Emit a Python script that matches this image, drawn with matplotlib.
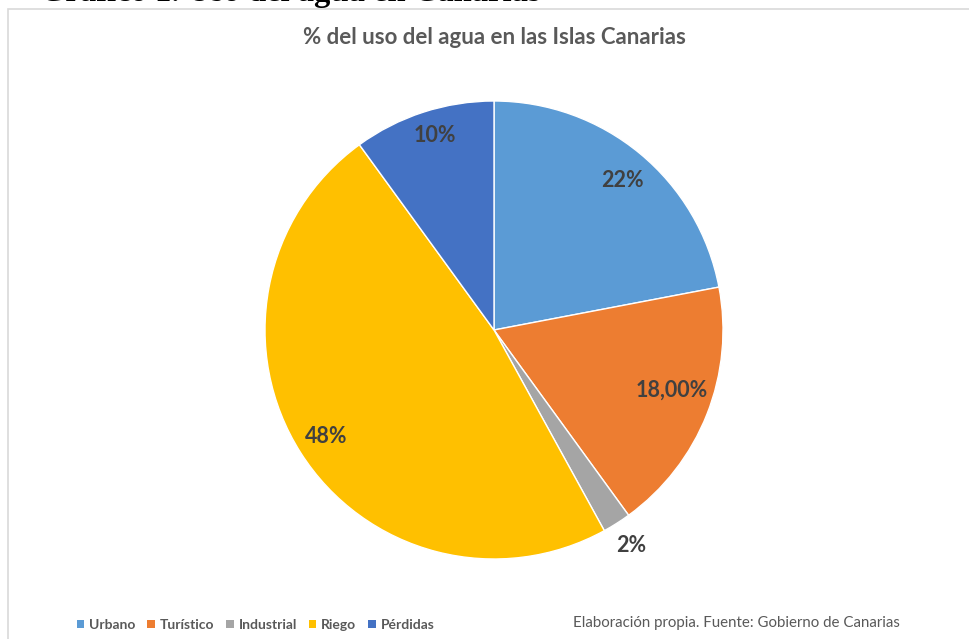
import numpy as np
import matplotlib.pyplot as plt
from matplotlib.patches import Patch, Rectangle

plt.rcParams['font.family'] = ['Lato', 'DejaVu Sans']

# uso del agua por sector (%)
sectores = ['Urbano', 'Turístico', 'Industrial', 'Riego', 'Pérdidas']
valores = [22, 18, 2, 48, 10]
etiquetas = ['22%', '18,00%', '2%', '48%', '10%']
colores = ['#5B9BD5', '#ED7D31', '#A5A5A5', '#FFC000', '#4472C4']
# posición de cada etiqueta: distancia al centro (en radios) y giro en grados
dist_etiqueta = [0.86, 0.82, 1.115, 0.87, 0.89]
giro_etiqueta = [-1, 3, 0, 0, -1]

W, H = 970, 639
fig = plt.figure(figsize=(W / 100, H / 100), dpi=100)

# marco del gráfico
fig.patches.append(Rectangle((8 / W, -0.1), 1.1, (H - 9) / H + 0.1,
                             transform=fig.transFigure, fill=False,
                             edgecolor='#D9D9D9', linewidth=1.2))

# encabezado del documento, cortado por arriba
fig.text(40 / W, 1 - 1 / H, 'Gráfico 1. Uso del agua en Canarias',
         family='Liberation Serif', weight='bold', fontsize=23.5,
         color='black', va='baseline', ha='left')

cx, cy, r = 494, 330, 229
ax = fig.add_axes([(cx - r) / W, (H - cy - r) / H, 2 * r / W, 2 * r / H])
wedges, _ = ax.pie(valores, colors=colores, startangle=90, counterclock=False,
                   radius=1, wedgeprops=dict(edgecolor='white', linewidth=1))
ax.set_xlim(-1, 1)
ax.set_ylim(-1, 1)
ax.set_aspect('equal')
ax.axis('off')

for w, txt, d, g in zip(wedges, etiquetas, dist_etiqueta, giro_etiqueta):
    ang = np.deg2rad((w.theta1 + w.theta2) / 2 + g)
    ax.text(d * np.cos(ang), d * np.sin(ang), txt, ha='center', va='center',
            fontsize=15.5, weight='bold', color='#404040')

fig.text(cx / W, 1 - 38 / H, '% del uso del agua en las Islas Canarias',
         ha='center', va='center', fontsize=16, weight='bold', color='#595959')

handles = [Patch(facecolor=c, edgecolor='none') for c in colores]
fig.legend(handles, sectores, loc='center left', bbox_to_anchor=(64 / W, 1 - 625 / H),
           ncol=5, frameon=False, prop={'size': 10, 'weight': 'bold'},
           handlelength=0.55, handleheight=0.55, handletextpad=0.35,
           columnspacing=0.85, labelcolor='#595959')

fig.text(573 / W, 1 - 623 / H, 'Elaboración propia. Fuente: Gobierno de Canarias',
         ha='left', va='center', fontsize=10.8, color='#595959')

fig.savefig('out.png', dpi=100)
